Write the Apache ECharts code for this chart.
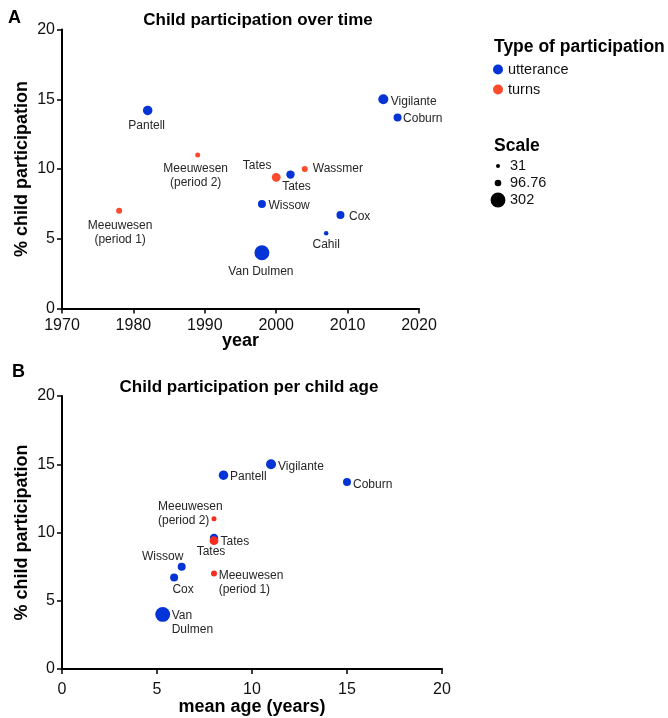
<!DOCTYPE html>
<html><head><meta charset="utf-8">
<script src="https://cdn.jsdelivr.net/npm/echarts@6/dist/echarts.min.js"></script>
<style>html,body{margin:0;padding:0;background:#fff}#c{width:668px;height:718px}</style>
</head><body><div id="c"></div>
<script>
// ---- data ----
const studies = ['Pantell','Meeuwesen (period 1)','Meeuwesen (period 2)','Tates (utterance)','Tates (turns)','Wassmer','Wissow','Cox','Cahil','Van Dulmen','Vigilante','Coburn'];
const labelsA = ['Pantell','Meeuwesen\n(period 1)','Meeuwesen\n(period 2)','Tates','Tates','Wassmer','Wissow','Cox','Cahil','Van Dulmen','Vigilante','Coburn'];
const labelsB = ['Pantell','Meeuwesen\n(period 1)','Meeuwesen\n(period 2)','Tates','Tates','Wassmer','Wissow','Cox','Cahil','Van\nDulmen','Vigilante','Coburn'];
const participationType = ['utterance','turns','turns','utterance','turns','turns','utterance','utterance','utterance','utterance','utterance','utterance'];
const year = [1982,1978,1989,2002,2000,2004,1998,2009,2007,1998,2015,2017];
const meanAge = [8.5,8,8,8,8,null,6.3,5.9,null,5.3,11,15];
const childParticipation = [14.2,7,11,9.6,9.4,10,7.5,6.7,5.4,4,15,13.7];
const sampleSize = [167,80,55,140,150,80,130,130,42,302,180,130];
const scaleLegend = [31, 96.76, 302];
const typeNames = ['utterance','turns'];
const titleA = 'Child participation over time';
const titleB = 'Child participation per child age';

// ---- styles ----
const FONT = "'Liberation Sans', Arial, Helvetica, sans-serif";
const colorsA = {utterance:'#0434d6', turns:'#fb4b2d'};
const colorsB = {utterance:'#0434d6', turns:'#f62c1f'};
const sizeOf = n => 2.8 + 0.04 * n;
// label placement relative to point centre: [dx, dy, align]
const placeA = {
  'Pantell':[-1,15,'center'],
  'Meeuwesen (period 1)':[1,21.5,'center'],
  'Meeuwesen (period 2)':[-2,21,'center'],
  'Tates (utterance)':[6,12.5,'center'],
  'Tates (turns)':[-19,-12,'center'],
  'Wassmer':[8,0,'left'],
  'Wissow':[6.5,2,'left'],
  'Cox':[8.5,2,'left'],
  'Cahil':[0,12,'center'],
  'Van Dulmen':[-1,19,'center'],
  'Vigilante':[7.5,2.5,'left'],
  'Coburn':[5.5,1.5,'left']
};
const placeB = {
  'Pantell':[6.5,2,'left'],
  'Meeuwesen (period 1)':[4.7,9.6,'left'],
  'Meeuwesen (period 2)':[-56,-5,'left'],
  'Tates (utterance)':[6.5,3.5,'left'],
  'Tates (turns)':[-3,10.5,'center'],
  'Wissow':[-19,-10,'center'],
  'Cox':[9,12,'center'],
  'Van Dulmen':[9,8.7,'left'],
  'Vigilante':[7,2.5,'left'],
  'Coburn':[6,3,'left']
};

function buildData(xArr, labels, place, type) {
  const out = [];
  studies.forEach((s, i) => {
    if (participationType[i] !== type) return;
    if (xArr[i] == null) return;
    const p = place[s] || [0, 12, 'center'];
    out.push({
      name: s,
      value: [xArr[i], childParticipation[i], sampleSize[i]],
      label: {
        show: true, formatter: labels[i], position: 'inside',
        offset: [p[0], p[1]], align: p[2], verticalAlign: 'middle',
        color: '#262626', fontSize: 12, lineHeight: 14, fontFamily: FONT
      }
    });
  });
  return out;
}

function axisCommon(extra, margin) {
  return Object.assign({
    type: 'value',
    nameMoveOverlap: false,
    axisLine: {show: true, onZero: false, lineStyle: {color: '#000', width: 2}},
    axisTick: {show: true, length: 5, lineStyle: {color: '#000', width: 1.5}},
    splitLine: {show: false},
    axisLabel: {color: '#111', fontSize: 16, fontFamily: FONT, margin: margin, formatter: v => String(v)},
    nameTextStyle: {color: '#000', fontSize: 18, fontWeight: 'bold', fontFamily: FONT}
  }, extra);
}

const series = [];
[['A', year, labelsA, placeA, colorsA, 0], ['B', meanAge, labelsB, placeB, colorsB, 1]].forEach(cfg => {
  typeNames.forEach(t => {
    series.push({
      type: 'scatter', name: t, xAxisIndex: cfg[5], yAxisIndex: cfg[5],
      symbol: 'circle',
      symbolSize: v => sizeOf(v[2]),
      itemStyle: {color: cfg[4][t], opacity: 1},
      emphasis: {disabled: true},
      data: buildData(cfg[1], cfg[2], cfg[3], t)
    });
  });
});

const graphics = [
  {type: 'text', left: 8, top: 9, style: {text: 'A', font: "bold 18px " + FONT, fill: '#000'}},
  {type: 'text', left: 12, top: 363, style: {text: 'B', font: "bold 18px " + FONT, fill: '#000'}},
  {type: 'text', left: 494, top: 38, style: {text: 'Type of participation', font: "bold 17.5px " + FONT, fill: '#000'}},
  {type: 'text', left: 494, top: 137, style: {text: 'Scale', font: "bold 17.5px " + FONT, fill: '#000'}}
];
const scaleY = [166, 183, 200];
scaleLegend.forEach((v, i) => {
  graphics.push({type: 'circle', shape: {cx: 498, cy: scaleY[i], r: sizeOf(v) / 2}, style: {fill: '#000'}});
  graphics.push({type: 'text', x: 510, y: scaleY[i], style: {text: String(v), font: "14.5px " + FONT, fill: '#111', textVerticalAlign: 'middle'}});
});

const option = {
  backgroundColor: '#fff',
  animation: false,
  title: [
    {text: titleA, left: 253, top: 7, textAlign: 'center', textStyle: {fontSize: 17, fontWeight: 'bold', color: '#000', fontFamily: FONT}},
    {text: titleB, left: 244, top: 374, textAlign: 'center', textStyle: {fontSize: 17, fontWeight: 'bold', color: '#000', fontFamily: FONT}}
  ],
  legend: {
    data: typeNames, orient: 'vertical', left: 488, top: 57,
    icon: 'circle', itemWidth: 10, itemHeight: 10, itemGap: 5,
    textStyle: {fontSize: 14.5, color: '#111', fontFamily: FONT},
    selectedMode: false
  },
  grid: [
    {left: 62, top: 29.5, width: 357, height: 279},
    {left: 62, top: 396, width: 380, height: 273}
  ],
  xAxis: [
    axisCommon({gridIndex: 0, min: 1970, max: 2020, interval: 10, name: 'year', nameLocation: 'middle', nameGap: 24}, 9),
    axisCommon({gridIndex: 1, min: 0, max: 20, interval: 5, name: 'mean age (years)', nameLocation: 'middle', nameGap: 29}, 13)
  ],
  yAxis: [
    axisCommon({gridIndex: 0, min: 0, max: 20, interval: 5, name: '% child participation', nameLocation: 'middle', nameGap: 31}, 7),
    axisCommon({gridIndex: 1, min: 0, max: 20, interval: 5, name: '% child participation', nameLocation: 'middle', nameGap: 31}, 7)
  ],
  graphic: graphics,
  series: series
};
const chart = echarts.init(document.getElementById('c'), null, {renderer: 'canvas'});
chart.setOption(option);
</script>
</body></html>
